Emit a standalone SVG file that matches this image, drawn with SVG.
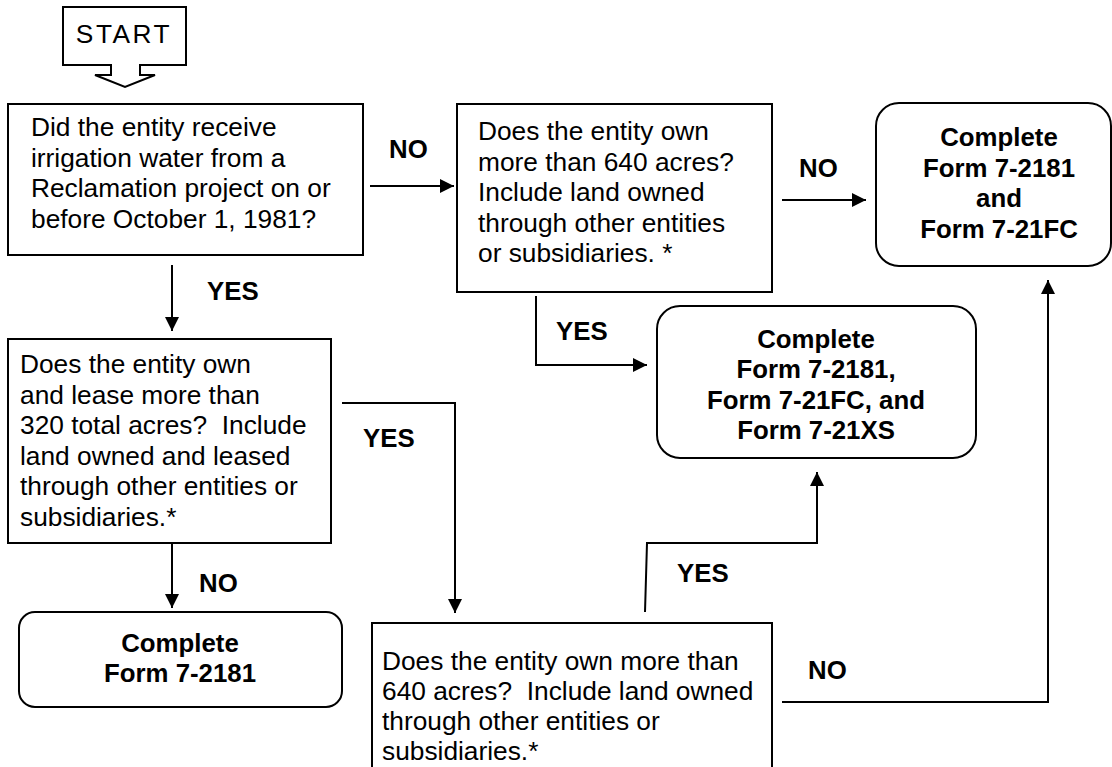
<svg xmlns="http://www.w3.org/2000/svg" width="1112" height="767" viewBox="0 0 1112 767">
<defs>
<style>
.box{fill:#fff;stroke:#000;stroke-width:2}
.t{font-family:"Liberation Sans",Arial,sans-serif;font-size:26.3px;fill:#000}
.b{font-family:"Liberation Sans",Arial,sans-serif;font-size:25.8px;font-weight:bold;fill:#000}
.c{text-anchor:middle}
.ln{fill:none;stroke:#000;stroke-width:2}
</style>
<marker id="ah" viewBox="0 0 14 14" refX="14" refY="7" markerWidth="14" markerHeight="14" markerUnits="userSpaceOnUse" orient="auto">
<path d="M0,0 L14,7 L0,14 z" fill="#000"/>
</marker>
</defs>
<rect width="1112" height="767" fill="#fff"/>

<g id="start">
<path class="box" d="M63,7 H186 V65 H140 V75 H155 L125,87 L95,75 H111 V65 H63 Z"/>
<text class="t" x="124" y="43" text-anchor="middle" letter-spacing="2.5">START</text>
</g>

<g id="q1">
<rect class="box" x="8" y="104" width="355" height="151"/>
<text class="t" x="31" y="136">Did the entity receive</text>
<text class="t" x="31" y="166.5">irrigation water from a</text>
<text class="t" x="31" y="197">Reclamation project on or</text>
<text class="t" x="31" y="227.5">before October 1, 1981?</text>
</g>

<g id="q2">
<rect class="box" x="457" y="104" width="315" height="188"/>
<text class="t" x="478" y="140">Does the entity own</text>
<text class="t" x="478" y="170.5">more than 640 acres?</text>
<text class="t" x="478" y="201">Include land owned</text>
<text class="t" x="478" y="231.5">through other entities</text>
<text class="t" x="478" y="262">or subsidiaries. *</text>
</g>

<g id="r1">
<rect class="box" x="876" y="103" width="235" height="163" rx="23" ry="23"/>
<text class="b c" x="999" y="146">Complete</text>
<text class="b c" x="999" y="176.5">Form 7-2181</text>
<text class="b c" x="999" y="207">and</text>
<text class="b c" x="999" y="237.5">Form 7-21FC</text>
</g>

<g id="q3">
<rect class="box" x="8" y="339" width="323" height="204"/>
<text class="t" x="20" y="373">Does the entity own</text>
<text class="t" x="20" y="403.6">and lease more than</text>
<text class="t" x="20" y="434.2" xml:space="preserve">320 total acres?  Include</text>
<text class="t" x="20" y="464.8">land owned and leased</text>
<text class="t" x="20" y="495.4">through other entities or</text>
<text class="t" x="20" y="526">subsidiaries.*</text>
</g>

<g id="r2">
<rect class="box" x="657" y="306" width="319" height="152" rx="23" ry="23"/>
<text class="b c" x="816" y="348">Complete</text>
<text class="b c" x="816" y="378.3">Form 7-2181,</text>
<text class="b c" x="816" y="408.6">Form 7-21FC, and</text>
<text class="b c" x="816" y="439">Form 7-21XS</text>
</g>

<g id="r3">
<rect class="box" x="19" y="612" width="323" height="95" rx="16" ry="16"/>
<text class="b c" x="180" y="652">Complete</text>
<text class="b c" x="180" y="682">Form 7-2181</text>
</g>

<g id="q4">
<rect class="box" x="372" y="623" width="400" height="160"/>
<text class="t" x="382" y="670">Does the entity own more than</text>
<text class="t" x="382" y="700" xml:space="preserve">640 acres?  Include land owned</text>
<text class="t" x="382" y="730">through other entities or</text>
<text class="t" x="382" y="760">subsidiaries.*</text>
</g>

<g id="connectors">
<path class="ln" d="M370,186 H454" marker-end="url(#ah)"/>
<text class="b" x="389" y="158">NO</text>
<path class="ln" d="M782,200 H866" marker-end="url(#ah)"/>
<text class="b" x="799" y="177">NO</text>
<path class="ln" d="M172,265 V331" marker-end="url(#ah)"/>
<text class="b" x="207" y="300">YES</text>
<path class="ln" d="M172,543 V608" marker-end="url(#ah)"/>
<text class="b" x="199" y="592">NO</text>
<path class="ln" d="M342,403 H455 V613" marker-end="url(#ah)"/>
<text class="b" x="363" y="447">YES</text>
<path class="ln" d="M536,296 V365 H647" marker-end="url(#ah)"/>
<text class="b" x="556" y="340">YES</text>
<path class="ln" d="M645,612 L647,543 H817 V472" marker-end="url(#ah)"/>
<text class="b" x="677" y="582">YES</text>
<path class="ln" d="M782,702 H1048 V280" marker-end="url(#ah)"/>
<text class="b" x="808" y="679">NO</text>
</g>
</svg>
